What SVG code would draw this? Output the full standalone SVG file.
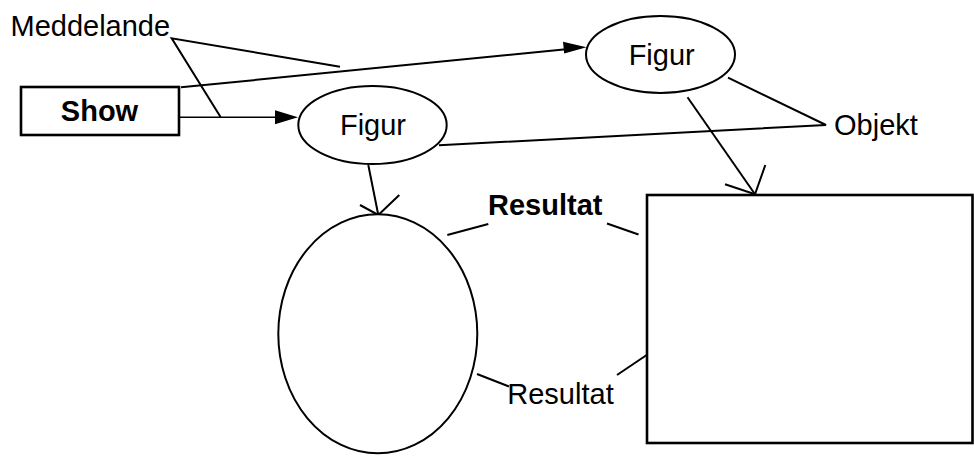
<svg xmlns="http://www.w3.org/2000/svg" width="974" height="459" viewBox="0 0 974 459">
  <style>
    .shape { fill: #ffffff; stroke: #000000; stroke-width: 2; }
    .box { fill: #ffffff; stroke: #000000; stroke-width: 2.6; }
    .line { fill: none; stroke: #000000; stroke-width: 2; stroke-linecap: butt; }
    .thin { fill: none; stroke: #000000; stroke-width: 1.4; }
    .head { fill: #000000; stroke: none; }
    .open { fill: none; stroke: #000000; stroke-width: 2; stroke-linejoin: miter; }
    text { font-family: "Liberation Sans", Arial, Helvetica, sans-serif; fill: #000000; font-size: 29px; }
    .bold { font-weight: bold; }
  </style>

  <rect x="0" y="0" width="974" height="459" fill="#ffffff"/>

  <!-- connectors -->
  <g id="connectors">
    <!-- Show -> lower Figur -->
    <line class="thin" x1="180" y1="117.3" x2="277" y2="117.3"/>
    <polygon class="head" points="298,117.3 275,110.3 275,124.3"/>
    <!-- Show -> upper Figur -->
    <line class="line" x1="181" y1="87.3" x2="566" y2="49.3"/>
    <polygon class="head" points="586.5,47.3 563,41.7 564.2,53.6"/>
    <!-- Meddelande pointers -->
    <polyline class="line" points="340,66.7 171.7,38.3 220.7,117.3"/>
    <!-- Objekt pointers -->
    <polyline class="line" points="728,77.7 826,125 439,145.3"/>
    <!-- lower Figur -> ellipse -->
    <line class="line" x1="368.3" y1="165" x2="378.3" y2="215"/>
    <polyline class="open" points="360,205 378.3,215 399.3,195"/>
    <!-- upper Figur -> rectangle -->
    <line class="line" x1="687.5" y1="97.3" x2="755" y2="194.3"/>
    <polyline class="open" points="725,184.3 755,194.3 765.3,165"/>
    <!-- Resultat pointers -->
    <line class="line" x1="447.3" y1="235" x2="488.3" y2="224"/>
    <line class="line" x1="607" y1="223.5" x2="638.5" y2="234.5"/>
    <line class="line" x1="477" y1="374" x2="509" y2="386.5"/>
    <line class="line" x1="617" y1="375" x2="646.7" y2="355"/>
  </g>

  <g id="meddelande">
    <text x="10.5" y="36">Meddelande</text>
  </g>

  <g id="show">
    <rect class="box" x="21" y="87" width="158" height="48"/>
    <text class="bold" x="99.5" y="120.7" text-anchor="middle">Show</text>
  </g>

  <g id="figur-lower">
    <ellipse class="shape" cx="372.5" cy="125" rx="74.2" ry="39"/>
    <text x="373" y="135" text-anchor="middle">Figur</text>
  </g>

  <g id="figur-upper">
    <ellipse class="shape" cx="660.5" cy="54.5" rx="74.5" ry="38.5"/>
    <text x="661.7" y="65" text-anchor="middle">Figur</text>
  </g>

  <g id="objekt">
    <text x="834" y="135">Objekt</text>
  </g>

  <g id="ellipse-result">
    <ellipse class="shape" cx="377.8" cy="333.8" rx="99.5" ry="119.5"/>
  </g>

  <g id="rect-result">
    <rect class="box" x="647" y="195" width="325.5" height="248" stroke-width="3"/>
  </g>

  <g id="resultat-top">
    <text class="bold" x="488" y="215">Resultat</text>
  </g>

  <g id="resultat-bottom">
    <text x="507.3" y="404">Resultat</text>
  </g>
</svg>
